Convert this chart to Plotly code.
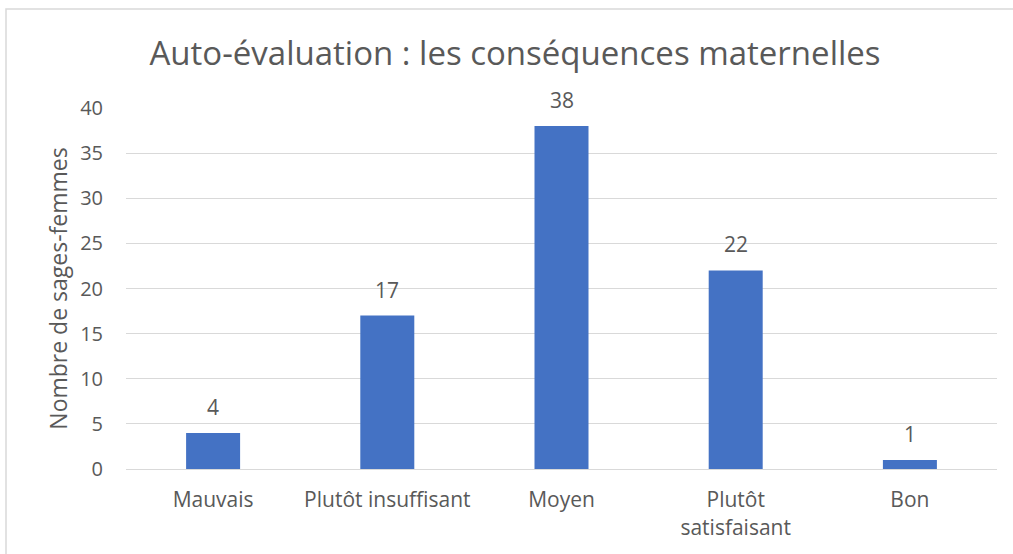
import plotly.graph_objects as go

categories = ["Mauvais", "Plutôt insuffisant", "Moyen", "Plutôt<br>satisfaisant", "Bon"]
values = [4, 17, 38, 22, 1]
y_ticks = [0, 5, 10, 15, 20, 25, 30, 35, 40]

FONT = "Open Sans"
GRAY = "#595959"

fig = go.Figure(go.Bar(
    x=categories, y=values,
    marker=dict(color="#4472C4", line=dict(width=0)),
    hoverinfo="x+y",
))

for c, v in zip(categories, values):
    fig.add_annotation(x=c, y=v, text=str(v), showarrow=False,
                       yanchor="bottom", yshift=10,
                       font=dict(family=FONT, size=21, color=GRAY))

fig.update_layout(
    width=1013, height=554,
    margin=dict(l=126, r=16, t=108, b=85),
    paper_bgcolor="white", plot_bgcolor="white",
    bargap=0.69,
    showlegend=False,
    title=dict(text="Auto-évaluation : les conséquences maternelles",
               x=515/1013, xanchor="center", y=1-53/554, yanchor="middle",
               font=dict(family=FONT, size=33, color=GRAY)),
    font=dict(family=FONT, color=GRAY),
    shapes=[dict(type="rect", xref="paper", yref="paper",
                 x0=-120/871, x1=1.05, y0=-0.3, y1=1+99/361,
                 line=dict(color="#D9D9D9", width=1.5), layer="below")],
)
fig.update_xaxes(showgrid=False, showline=True, linecolor="#D9D9D9", linewidth=1,
                 ticks="", tickfont=dict(family=FONT, size=21, color=GRAY),
                 ticklabelstandoff=12)
fig.update_yaxes(range=[0, 40], tickvals=y_ticks, showgrid=True, gridcolor="#D9D9D9",
                 gridwidth=1, zeroline=False, ticks="", showline=False,
                 tickfont=dict(family=FONT, size=20, color=GRAY),
                 ticklabelstandoff=22,
                 title=dict(text="Nombre de sages-femmes",
                            font=dict(family=FONT, size=23, color=GRAY), standoff=6))

fig.write_html("out.html", config={"displayModeBar": False},
               post_script="document.body.style.margin='0px';")
